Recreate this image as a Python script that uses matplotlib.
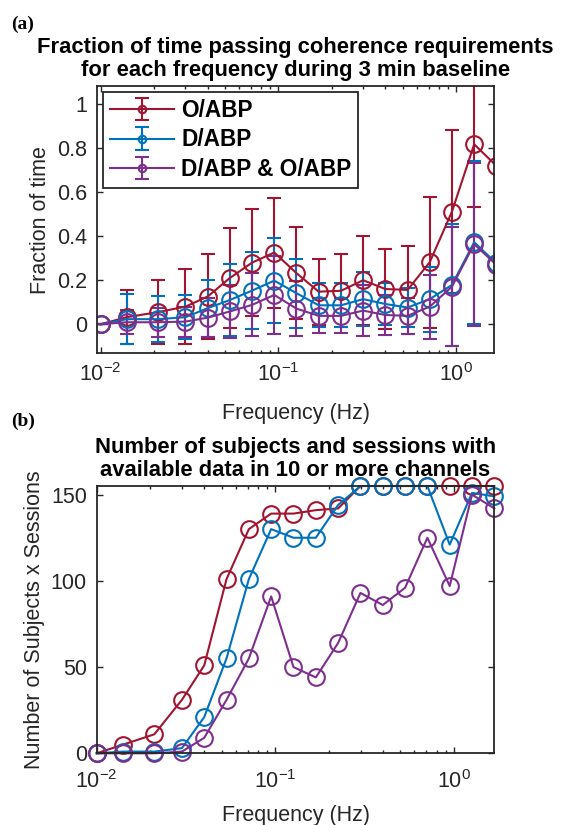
import numpy as np
import matplotlib
matplotlib.use('Agg')
import matplotlib.pyplot as plt

plt.rcParams['font.family'] = ['Liberation Sans', 'DejaVu Sans']

# centre frequencies (Hz)
freqs = [0.01, 0.014, 0.021, 0.03, 0.04, 0.0533, 0.0711, 0.0948, 0.1264, 0.1686,
         0.2248, 0.2997, 0.3996, 0.5328, 0.7104, 0.9472, 1.263, 1.684]

# (a) fraction of time, mean and std (last std is off the plot, not readable)
oabp_mean = [0, 0.032, 0.055, 0.08, 0.126, 0.21, 0.28, 0.326, 0.232, 0.148,
             0.152, 0.2, 0.16, 0.156, 0.282, 0.512, 0.818, 0.72]
oabp_std = [0, 0.122, 0.145, 0.17, 0.195, 0.228, 0.244, 0.25, 0.21, 0.15,
            0.166, 0.203, 0.18, 0.199, 0.298, 0.37, 0.285, np.nan]
dabp_mean = [0, 0.023, 0.023, 0.032, 0.073, 0.11, 0.153, 0.198, 0.141, 0.086,
             0.086, 0.114, 0.092, 0.076, 0.114, 0.179, 0.373, 0.277]
dabp_std = [0, 0.115, 0.105, 0.1, 0.13, 0.165, 0.176, 0.193, 0.157, 0.1,
            0.1, 0.122, 0.094, 0.088, 0.148, 0.278, 0.37, np.nan]
both_mean = [0, 0.009, 0.009, 0.012, 0.03, 0.058, 0.088, 0.133, 0.071, 0.038,
             0.038, 0.062, 0.042, 0.038, 0.08, 0.171, 0.364, 0.27]
both_std = [0, 0.055, 0.065, 0.068, 0.09, 0.12, 0.143, 0.177, 0.125, 0.08,
            0.08, 0.115, 0.09, 0.082, 0.145, 0.27, 0.37, np.nan]

# (b) number of subjects x sessions
oabp_n = [0, 5, 11, 31, 51, 101, 130, 139, 139, 141, 142, 155, 155, 155, 155, 155, 155, 155]
dabp_n = [0, 1, 1, 3, 21, 55, 101, 130, 125, 125, 144, 155, 155, 155, 155, 121, 151, 149]
both_n = [0, 0, 0, 1, 9, 31, 55, 91, 50, 44, 64, 93, 86, 96, 125, 97, 150, 142]

labels = ['O/ABP', 'D/ABP', 'D/ABP & O/ABP']
colors = ['#A2142F', '#0072BD', '#7E2F8E']
axcol = '#262626'


def style_axes(ax, xpad):
    ax.set_xscale('log')
    ax.tick_params(which='both', direction='in', top=True, right=True,
                   colors=axcol, labelsize=15.5, width=1)
    ax.tick_params(which='major', length=4, pad=7)
    ax.tick_params(which='minor', length=2.2)
    ax.tick_params(axis='x', which='major', pad=xpad)
    for s in ax.spines.values():
        s.set_color(axcol)
        s.set_linewidth(1.3)


fig = plt.figure(figsize=(5.62, 8.25), dpi=100)

# ---- (a)
ax1 = fig.add_axes([0.1721, 0.5718, 0.7075, 0.3240])
style_axes(ax1, 7)
sets = [(oabp_mean, oabp_std), (dabp_mean, dabp_std), (both_mean, both_std)]
for (m, s), lab, c in zip(sets, labels, colors):
    ax1.errorbar(freqs, m, yerr=s, fmt='-o', color=c, mfc='none', ms=12, mew=1.5,
                 lw=1.5, elinewidth=1.5, capsize=4.7, capthick=1.5, label=lab)
ax1.set_xlim(0.0095, 1.64)
ax1.set_ylim(-0.132, 1.083)
ax1.set_yticks([0, 0.2, 0.4, 0.6, 0.8, 1])
ax1.set_yticklabels(['0', '0.2', '0.4', '0.6', '0.8', '1'])
ax1.set_xlabel('Frequency (Hz)', fontsize=15.5, color=axcol, labelpad=12)
ax1.set_ylabel('Fraction of time', fontsize=15.5, color=axcol, labelpad=4)
ax1.set_title('Fraction of time passing coherence requirements\n'
              'for each frequency during 3 min baseline',
              fontsize=15.8, fontweight='bold', pad=7, linespacing=1.15)
leg = ax1.legend(loc='upper left', prop={'size': 16.3, 'weight': 'bold'},
                 handlelength=2.85, handletextpad=0.3, borderaxespad=0.28,
                 labelspacing=0.28, markerscale=0.45, fancybox=False,
                 framealpha=1, edgecolor=axcol, borderpad=0.3)
leg.get_frame().set_linewidth(1.3)

# ---- (b)
ax2 = fig.add_axes([0.1721, 0.0869, 0.7075, 0.3240])
style_axes(ax2, 12)
for n, c in zip([oabp_n, dabp_n, both_n], colors):
    ax2.plot(freqs, n, '-o', color=c, mfc='none', ms=12, mew=1.5, lw=1.5, clip_on=False)
ax2.set_xlim(0.01, 1.684)
ax2.set_ylim(0, 155)
ax2.set_yticks([0, 50, 100, 150])
ax2.set_xlabel('Frequency (Hz)', fontsize=15.5, color=axcol, labelpad=9)
ax2.set_ylabel('Number of Subjects x Sessions', fontsize=15.5, color=axcol, labelpad=4)
ax2.set_title('Number of subjects and sessions with\n'
              'available data in 10 or more channels',
              fontsize=15.8, fontweight='bold', pad=7, linespacing=1.15)

fig.text(11 / 562, 1 - 24 / 825, '(a)', family='Liberation Serif', fontweight='bold',
         fontsize=14, va='center')
fig.text(11 / 562, 1 - 421 / 825, '(b)', family='Liberation Serif', fontweight='bold',
         fontsize=14, va='center')

fig.savefig('out.png', dpi=100)
